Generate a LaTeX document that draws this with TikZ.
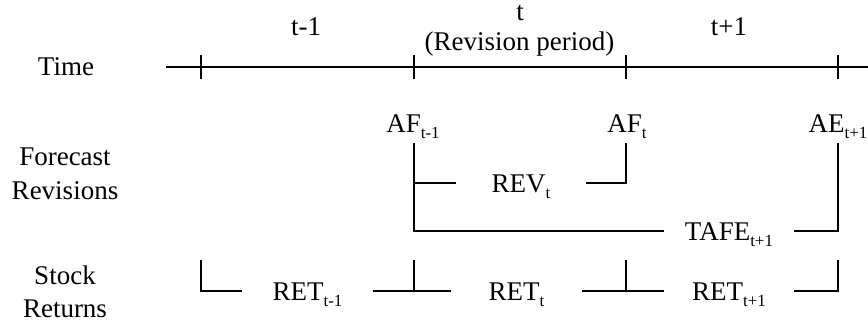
\documentclass[tikz,border=0pt]{standalone}
\usepackage{fontspec}
\setmainfont{Liberation Serif}
\newcommand\sbx[1]{\raisebox{-6pt}{\fontsize{17}{17}\selectfont #1}}
\tikzset{
  lbl/.style={font=\fontsize{27}{34}\selectfont, inner sep=0pt},
  gapbox/.style={lbl, minimum width=130pt, text height=18pt, text depth=0pt},
  ln/.style={line width=2.8pt, line join=miter},
}
\begin{document}
\begin{tikzpicture}[x=1pt,y=-1pt]
\useasboundingbox (0,0) rectangle (868,322);
% row labels
\node[lbl, text height=18pt, text depth=0pt] (time) at (66,66) {Time};
\node[lbl, anchor=base] (fcA) at (65,165) {Forecast};
\node[lbl, anchor=base] (fcB) at (65,199) {Revisions};
\node[lbl, anchor=base] (srA) at (65,284) {Stock};
\node[lbl, anchor=base] (srB) at (65,317) {Returns};
% period labels
\node[lbl, anchor=base] (p0) at (306,35) {t-1};
\node[lbl, anchor=base] (p1) at (520,20) {t};
\node[lbl, anchor=base] (p1b) at (519.5,50) {(Revision period)};
\node[lbl, anchor=base] (p2) at (729,35) {t+1};
% time axis
\coordinate (axL) at (166,67);
\coordinate (axR) at (868,67);
\draw[ln] (axL) -- (axR);
\foreach \n/\x in {0/201,1/414,2/626,3/838}{
  \coordinate (tk\n) at (\x,67);
  \draw[ln] ([yshift=12pt]tk\n) -- ([yshift=-12pt]tk\n);
}
% forecast nodes
\node[lbl, anchor=base] (AFa) at (413,132) {AF\sbx{t-1}};
\node[lbl, anchor=base] (AFb) at (627,132) {AF\sbx{t}};
\node[lbl, anchor=base] (AEc) at (838,132) {AE\sbx{t+1}};
\coordinate (vA) at (414,143);
\coordinate (vB) at (626,143);
\coordinate (vC) at (838,143);
\node[gapbox] (REV) at (521,183) {REV\sbx{t}};
\node[gapbox] (TAFE) at (729,231) {TAFE\sbx{t+1}};
\draw[ln] (vA) |- (TAFE.west);
\draw[ln] (vA |- REV.west) -- (REV.west);
\draw[ln] (REV.east) -| (vB);
\draw[ln] (TAFE.east) -| (vC);
% stock returns
\coordinate (s0) at (201,260);
\coordinate (s1) at (414,260);
\coordinate (s2) at (626,260);
\coordinate (s3) at (838,260);
\node[gapbox] (R0) at (307.5,291) {RET\sbx{t-1}};
\node[gapbox] (R1) at (516.5,291) {RET\sbx{t}};
\node[gapbox] (R2) at (729,291) {RET\sbx{t+1}};
\draw[ln] (s0) |- (R0.west);
\draw[ln] (R0.east) -| (s1);
\draw[ln] (s1 |- R1.west) -- (R1.west);
\draw[ln] (R1.east) -| (s2);
\draw[ln] (s2 |- R2.west) -- (R2.west);
\draw[ln] (R2.east) -| (s3);
\end{tikzpicture}
\end{document}
